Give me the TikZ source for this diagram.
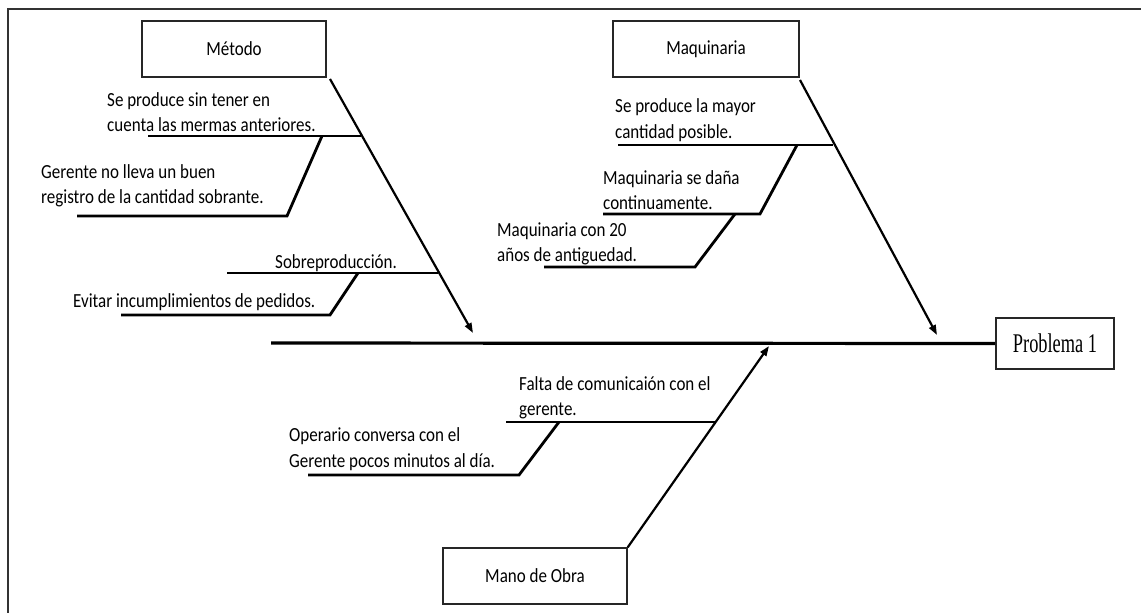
\documentclass[tikz,border=0pt]{standalone}
\usepackage{fontspec}
\setmainfont{Carlito}[FakeStretch=0.85]
\newfontfamily\probfont{Liberation Serif}[FakeStretch=0.68]
\usetikzlibrary{arrows.meta}

\begin{document}
\begin{tikzpicture}[x=1pt, y=-1pt,
  frame/.style={draw=black!80, line width=2.2pt},
  catbox/.style={draw=black!85, line width=1.5pt, minimum width=184pt,
    minimum height=56pt, inner sep=0pt, font=\fontsize{20}{24}\selectfont},
  probbox/.style={draw=black!85, line width=1.6pt, minimum width=118pt,
    minimum height=51pt, inner sep=0pt, font=\probfont\fontsize{27}{30}\selectfont},
  spine/.style={line width=3.2pt},
  bone/.style={line width=2.2pt, -{Triangle[length=10pt,width=7pt]}},
  twig/.style={line width=2.8pt},
  cause/.style={anchor=west, align=left, inner sep=0pt,
    font=\fontsize{20}{25.5}\selectfont}
]
\useasboundingbox (0,0) rectangle (1141,613);

% outer frame (top and left edges)
\draw[frame] (1141,9) -- (8,9) -- (8,613);

% category boxes and effect box
\node[catbox] (met) at (234,49) {Método};
\node[catbox, minimum width=186pt] (maq) at (706,49) {Maquinaria};
\node[catbox] (mano) at (535,576) {Mano de Obra};
\node[probbox] (prob) at (1055,343.5) {Problema 1};

% spine
\coordinate (tail) at (271,343);
\draw[spine] (tail) -- (prob.west);

% main bones
\coordinate (sMet) at (330,79);
\coordinate (tMet) at (473,333);
\coordinate (sMaq) at (800,80);
\coordinate (tMaq) at (937,335);
\coordinate (tMan) at (769,346);
\draw[bone] (sMet) -- (tMet);
\draw[bone] (sMaq) -- (tMaq);
\draw[bone] (mano.north east) -- (tMan);

% ---- Método causes
\coordinate (a1) at (148,136);  \coordinate (a1e) at (361,136);
\draw[twig] (a1) -- (a1e);
\node[cause] (ta1) at (107,112) {Se produce sin tener en\\cuenta las mermas anteriores.};
\coordinate (a2s) at (322,136); \coordinate (a2k) at (287,216); \coordinate (a2e) at (77,216);
\draw[twig] (a2s) -- (a2k) -- (a2e);
\node[cause] (ta2) at (41,186) {Gerente no lleva un buen\\registro de la cantidad sobrante.};
\coordinate (a3) at (227,273);  \coordinate (a3e) at (438,273);
\draw[twig] (a3) -- (a3e);
\node[cause] (ta3) at (275,263) {Sobreproducción.};
\coordinate (a4s) at (358,273); \coordinate (a4k) at (330,315); \coordinate (a4e) at (121,315);
\draw[twig] (a4s) -- (a4k) -- (a4e);
\node[cause] (ta4) at (73,302) {Evitar incumplimientos de pedidos.};

% ---- Maquinaria causes
\coordinate (b1) at (618,145);  \coordinate (b1e) at (833,145);
\draw[twig] (b1) -- (b1e);
\node[cause] (tb1) at (615,120) {Se produce la mayor\\cantidad posible.};
\coordinate (b2s) at (797,145); \coordinate (b2k) at (760,214); \coordinate (b2e) at (603,214);
\draw[twig] (b2s) -- (b2k) -- (b2e);
\node[cause] (tb2) at (603,190) {Maquinaria se daña\\continuamente.};
\coordinate (b3s) at (735,214); \coordinate (b3k) at (695,267); \coordinate (b3e) at (544,267);
\draw[twig] (b3s) -- (b3k) -- (b3e);
\node[cause] (tb3) at (497,244) {Maquinaria con 20\\años de antiguedad.};

% ---- Mano de Obra causes
\coordinate (c1) at (506,422);  \coordinate (c1e) at (716,422);
\draw[twig] (c1) -- (c1e);
\node[cause] (tc1) at (519,398) {Falta de comunicaión con el\\gerente.};
\coordinate (c2s) at (559,422); \coordinate (c2k) at (519,475); \coordinate (c2e) at (308,475);
\draw[twig] (c2s) -- (c2k) -- (c2e);
\node[cause] (tc2) at (289,449) {Operario conversa con el\\Gerente pocos minutos al día.};
\end{tikzpicture}
\end{document}
